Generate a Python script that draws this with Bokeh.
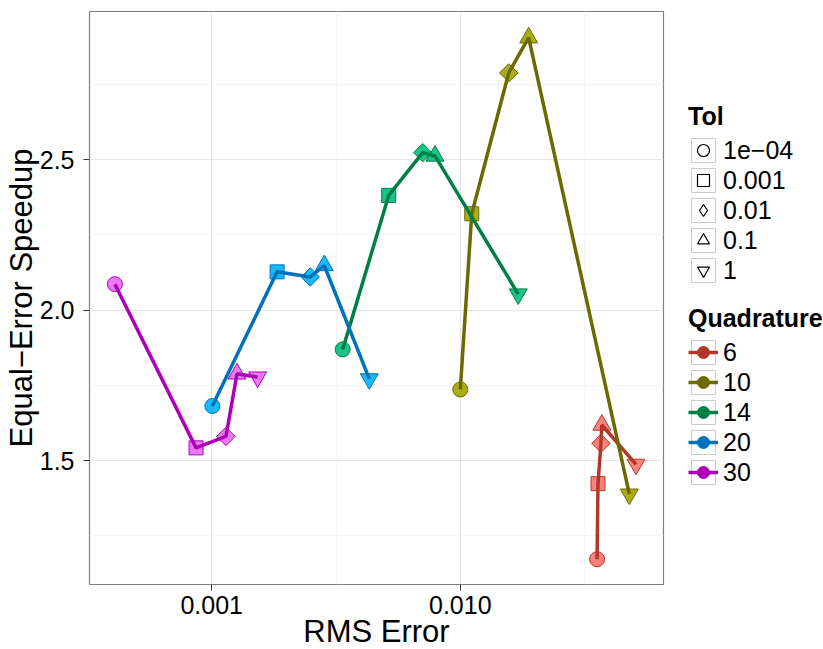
import numpy as np
from bokeh.plotting import figure
from bokeh.models import ColumnDataSource, Range1d, FixedTicker, Legend, LegendItem
from bokeh.layouts import row
from bokeh.embed import file_html
from bokeh.resources import INLINE

# ---------------- data ----------------
quadrature = ["6", "10", "14", "20", "30"]
tol_labels = ["1e\u221204", "0.001", "0.01", "0.1", "1"]

rms_q6 = [0.0355, 0.0358, 0.0368, 0.0371, 0.0509]
rms_q10 = [0.0100, 0.01112, 0.01566, 0.01884, 0.04786]
rms_q14 = [0.003364, 0.005152, 0.00706, 0.00791, 0.0171]
rms_q20 = [0.001006, 0.001833, 0.002492, 0.002837, 0.004305]
rms_q30 = [0.000408, 0.000865, 0.001141, 0.001264, 0.00153]

speed_q6 = [1.172, 1.423, 1.557, 1.618, 1.487]
speed_q10 = [1.736, 2.320, 2.788, 2.905, 1.388]
speed_q14 = [1.869, 2.381, 2.523, 2.512, 2.053]
speed_q20 = [1.681, 2.127, 2.110, 2.148, 1.771]
speed_q30 = [2.086, 1.542, 1.580, 1.788, 1.777]

x_ticks = [0.001, 0.01]
x_tick_labels = ["0.001", "0.010"]
y_ticks = [1.5, 2.0, 2.5]
y_tick_labels = ["1.5", "2.0", "2.5"]

rms_all = [rms_q6, rms_q10, rms_q14, rms_q20, rms_q30]
speed_all = [speed_q6, speed_q10, speed_q14, speed_q20, speed_q30]

# ---------------- styles ----------------
fill_colors = ["#F8766D", "#A3A500", "#00BF7D", "#00B0F6", "#E76BF3"]
line_colors = ["#B3382C", "#6B6A00", "#007F45", "#0072BB", "#AD00B6"]
tol_markers = ["circle", "square", "square", "triangle", "inverted_triangle"]
tol_legend_markers = ["circle", "square", "diamond", "triangle", "inverted_triangle"]
tol_angles = [0.0, 0.0, np.pi / 4, 0.0, 0.0]
tol_sizes = [15, 14, 13, 18, 18]
FONT = "Liberation Sans"

xs, ys, mk, sz, ang, fc, lc = [], [], [], [], [], [], []
for qi in range(len(quadrature)):
    for ti in range(len(tol_labels)):
        xs.append(rms_all[qi][ti])
        ys.append(speed_all[qi][ti])
        mk.append(tol_markers[ti])
        sz.append(tol_sizes[ti])
        ang.append(tol_angles[ti])
        fc.append(fill_colors[qi])
        lc.append(line_colors[qi])
src = ColumnDataSource(dict(x=xs, y=ys, marker=mk, size=sz, angle=ang, fill=fc, line=lc))

p = figure(frame_width=574, frame_height=573, x_axis_type="log",
           x_range=Range1d(10 ** -3.4916, 10 ** -1.1826),
           y_range=Range1d(1.088, 2.992),
           min_border_left=88, min_border_top=11, min_border_right=8, min_border_bottom=58,
           output_backend="svg", toolbar_location=None,
           x_axis_label="RMS Error", y_axis_label="Equal\u2212Error Speedup")
p.outline_line_color = "#7F7F7F"
p.outline_line_width = 1.2
p.background_fill_color = "white"
p.border_fill_color = "white"

p.scatter("x", "y", source=src, marker="marker", size="size", angle="angle",
          fill_color="fill", fill_alpha=0.9, line_color="line", line_width=1)
for qi in range(len(quadrature)):
    p.line(rms_all[qi], speed_all[qi], line_color=line_colors[qi], line_width=3.5)

x_minor = [t / np.sqrt(10) for t in x_ticks] + [x_ticks[-1] * np.sqrt(10)]
y_minor = [t - 0.25 for t in y_ticks] + [y_ticks[-1] + 0.25]
p.xaxis.ticker = FixedTicker(ticks=x_ticks, minor_ticks=x_minor)
p.yaxis.ticker = FixedTicker(ticks=y_ticks, minor_ticks=y_minor)
p.xaxis.major_label_overrides = dict(zip(x_ticks, x_tick_labels))
p.yaxis.major_label_overrides = dict(zip(y_ticks, y_tick_labels))

for g in (p.xgrid, p.ygrid):
    g.grid_line_color = "#E6E6E6"
    g.grid_line_width = 1
    g.minor_grid_line_color = "#F5F5F5"
    g.minor_grid_line_width = 1

for ax in (p.xaxis, p.yaxis):
    ax.axis_line_color = None
    ax.major_tick_line_color = "#333333"
    ax.major_tick_line_width = 1
    ax.major_tick_out = 6
    ax.major_tick_in = 0
    ax.minor_tick_line_color = None
    ax.major_label_text_font = FONT
    ax.major_label_text_font_size = "25px"
    ax.major_label_text_color = "black"
    ax.axis_label_text_font = FONT
    ax.axis_label_text_font_size = "31px"
    ax.axis_label_text_font_style = "normal"
    ax.axis_label_text_color = "black"
p.xaxis.major_label_standoff = 5
p.yaxis.major_label_standoff = 9
p.xaxis.axis_label_standoff = -3
p.yaxis.axis_label_standoff = -2

# ---------------- legend panel ----------------
LH = 636
pl = figure(width=153, height=LH, x_range=Range1d(0, 1), y_range=Range1d(0, 1),
            min_border=0, output_backend="svg", toolbar_location=None,
            x_axis_location=None, y_axis_location=None)
pl.grid.visible = False
pl.outline_line_color = None

box = pl.rect(x=[np.nan], y=[np.nan], width=1, height=1,
              fill_color="white", line_color="#CCCCCC", line_width=1)

tol_items = []
for ti, lbl in enumerate(tol_labels):
    r = pl.scatter(x=[np.nan], y=[np.nan], marker=tol_legend_markers[ti],
                   fill_color=None, line_color="black", line_width=1.2)
    tol_items.append(LegendItem(label=lbl, renderers=[box, r]))

q_items = []
for qi, q in enumerate(quadrature):
    lr = pl.line(x=[np.nan, np.nan], y=[np.nan, np.nan], line_color=line_colors[qi], line_width=3.5)
    cr = pl.scatter(x=[np.nan], y=[np.nan], marker="circle",
                    fill_color=line_colors[qi], line_color=line_colors[qi])
    q_items.append(LegendItem(label=q, renderers=[box, lr, cr]))

def make_legend(items, title, loc):
    return Legend(items=items, title=title, location=loc, orientation="vertical",
                  glyph_width=30, glyph_height=30, label_height=30, spacing=0,
                  padding=0, margin=0, border_line_color=None, background_fill_alpha=0,
                  label_text_font=FONT, label_text_font_size="25px", label_standoff=5,
                  label_text_color="black",
                  title_text_font=FONT, title_text_font_size="25px",
                  title_text_font_style="bold", title_text_color="black", title_standoff=4)

pl.add_layout(make_legend(tol_items, "Tol", (17, 284)))
pl.add_layout(make_legend(q_items, "Quadrature", (17, 82)))

layout = row(p, pl)
open("out.html", "w").write(file_html(layout, INLINE))
